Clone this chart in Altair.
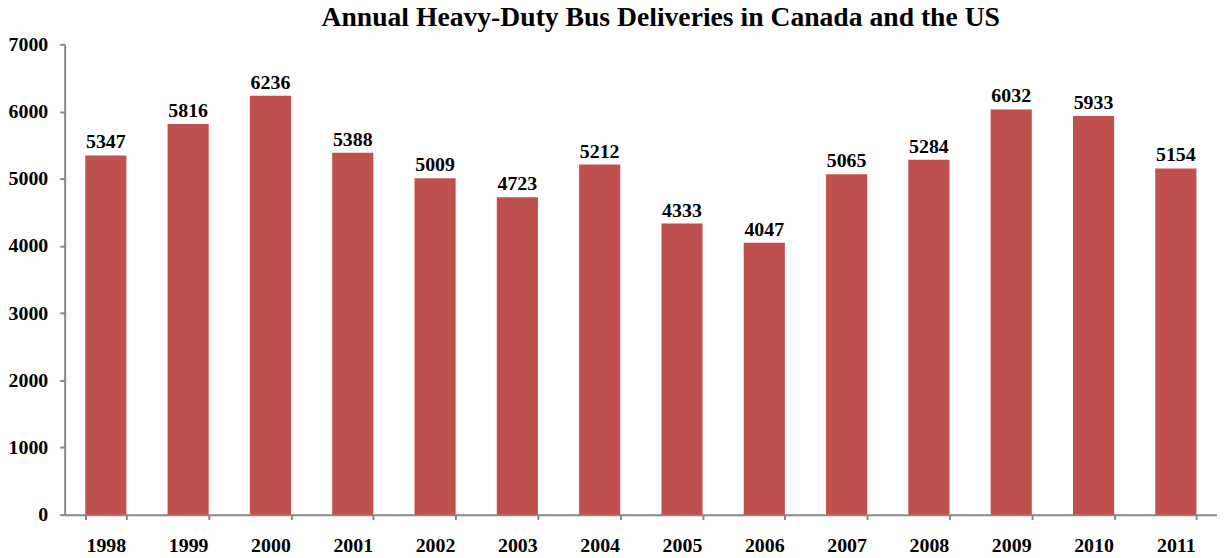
import altair as alt
import pandas as pd

years = ["1998", "1999", "2000", "2001", "2002", "2003", "2004", "2005",
         "2006", "2007", "2008", "2009", "2010", "2011"]
deliveries = [5347, 5816, 6236, 5388, 5009, 4723, 5212, 4333,
              4047, 5065, 5284, 6032, 5933, 5154]

df = pd.DataFrame({"year": years, "value": deliveries})

FONT = "Liberation Serif"

base = alt.Chart(df).encode(
    x=alt.X("year:N", sort=years, title=None,
            scale=alt.Scale(paddingInner=0.5, paddingOuter=0.25),
            axis=alt.Axis(labelAngle=0, labelFont=FONT, labelFontSize=20,
                          labelFontWeight="bold", labelColor="black",
                          labelPadding=16, tickBand="extent", tickSize=5,
                          tickColor="#888888", domainColor="#888888",
                          domainWidth=2, tickWidth=2, grid=False)),
    y=alt.Y("value:Q", title=None,
            scale=alt.Scale(domain=[0, 7000], nice=False),
            axis=alt.Axis(values=list(range(0, 7001, 1000)), format="d",
                          labelFont=FONT, labelFontSize=20,
                          labelFontWeight="bold", labelColor="black",
                          labelPadding=12, tickSize=5,
                          tickColor="#888888", domainColor="#888888",
                          domainWidth=2, tickWidth=2, grid=False)),
)

bars = base.mark_bar(color="#C0504D")
labels = base.mark_text(dy=-7, baseline="alphabetic", font=FONT, fontSize=20,
                        fontWeight="bold", color="black").encode(text="value:Q")

chart = (bars + labels).properties(
    width=1159, height=473,
    title=alt.TitleParams("Annual Heavy-Duty Bus Deliveries in Canada and the US",
                          font=FONT, fontSize=27.8, fontWeight="bold",
                          color="black", anchor="middle", dx=20, offset=-19,
                          frame="group", baseline="alphabetic"),
    autosize=alt.AutoSizeParams(type="none"),
    padding={"left": 57, "top": 35, "right": 0, "bottom": 40},
).configure_view(stroke=None)

chart.save("out.html", embed_options={"renderer": "svg", "actions": False})
